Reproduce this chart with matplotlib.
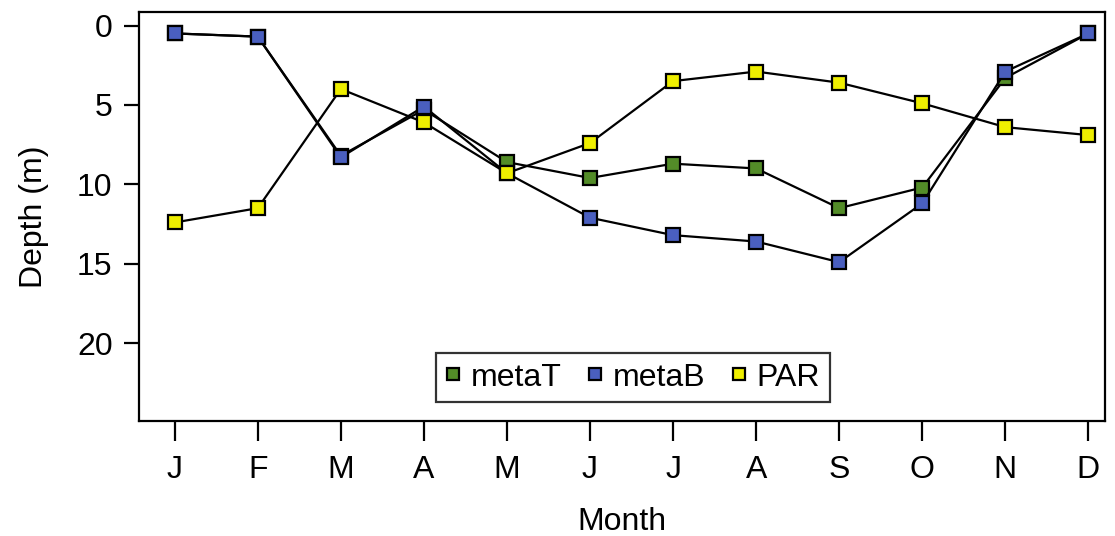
import matplotlib
matplotlib.use("Agg")
import matplotlib.pyplot as plt

months = ["J", "F", "M", "A", "M", "J", "J", "A", "S", "O", "N", "D"]
month_idx = list(range(1, 13))
metaT = [0.5, 0.7, 8.2, 5.3, 8.6, 9.6, 8.7, 9.0, 11.5, 10.2, 3.3, 0.5]
metaB = [0.5, 0.7, 8.3, 5.1, 9.3, 12.1, 13.2, 13.6, 14.9, 11.2, 2.9, 0.5]
PAR = [12.4, 11.5, 4.0, 6.1, 9.3, 7.4, 3.5, 2.9, 3.6, 4.9, 6.4, 6.9]
series_names = ["metaT", "metaB", "PAR"]
series_colors = ["#538C28", "#4A5FBF", "#EEEE00"]

plt.rcParams['font.family'] = ['Liberation Sans', 'DejaVu Sans']

fig = plt.figure(figsize=(11.15, 5.36), dpi=100)
ax = fig.add_axes([139/1115, 1-421/536, (1105-139)/1115, (421-12)/536])

for vals, name, col in zip([metaT, metaB, PAR], series_names, series_colors):
    ax.plot(month_idx, vals, color="black", lw=1.6, marker="s", markersize=10,
            markerfacecolor=col, markeredgecolor="black", markeredgewidth=1.6,
            label=name)

ax.set_xlim(0.57, 12.2)
ax.set_ylim(24.9, -0.85)
ax.set_yticks([0, 5, 10, 15, 20])
ax.set_xticks(month_idx)
ax.set_xticklabels(months)
for s in ax.spines.values():
    s.set_linewidth(1.6)
ax.tick_params(axis='y', length=11, width=1.6, labelsize=23, pad=8)
ax.tick_params(axis='x', length=14.5, width=1.6, labelsize=23, pad=10)
ax.set_xlabel("Month", fontsize=23, labelpad=16)
ax.set_ylabel("Depth (m)", fontsize=23, labelpad=20)

handles = [plt.Line2D([], [], ls='none', marker='s', markersize=9,
                      markerfacecolor=c, markeredgecolor='black', markeredgewidth=1.6)
           for c in series_colors]
leg = ax.legend(handles, series_names, ncol=3, loc='lower center',
                bbox_to_anchor=(0.511, 0.046), fontsize=23, frameon=True,
                fancybox=False, edgecolor='black', handlelength=0.5,
                handletextpad=0.3, columnspacing=0.8, borderpad=0.3,
                borderaxespad=0)
leg.get_frame().set_linewidth(1.6)

fig.savefig("out.png", dpi=100)
